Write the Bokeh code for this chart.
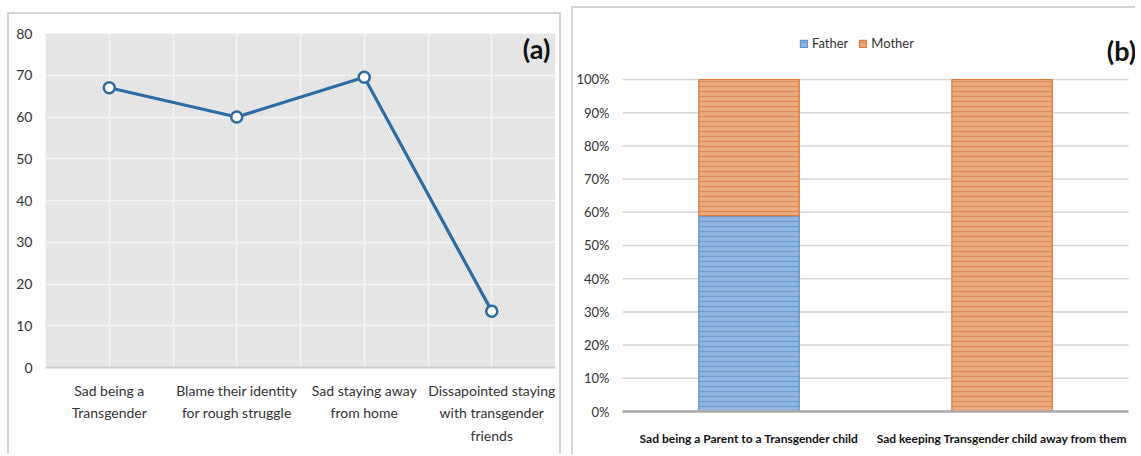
from bokeh.plotting import figure
from bokeh.layouts import row
from bokeh.models import (BoxAnnotation, Label, Legend, LegendItem, FactorRange,
                          NumeralTickFormatter, Grid, FixedTicker, Range1d,
                          CustomJSTickFormatter)
from bokeh.embed import file_html
from bokeh.resources import INLINE

# ---- panel (a): feelings of transgender respondents ----
a_categories = ["Sad being a\nTransgender",
                "Blame their identity\nfor rough struggle",
                "Sad staying away\nfrom home",
                "Dissapointed staying\nwith transgender\nfriends"]
a_values = [67, 60, 69.5, 13.5]
a_yticks = [0, 10, 20, 30, 40, 50, 60, 70, 80]

# ---- panel (b): parents' feelings ----
b_categories = ["Sad being a Parent to a Transgender child",
                "Sad keeping Transgender child away from them"]
b_father = [0.59, 0.0]
b_mother = [0.41, 1.0]
b_yticks = [0, 0.1, 0.2, 0.3, 0.4, 0.5, 0.6, 0.7, 0.8, 0.9, 1.0]

FONT = "Lato"
TXT = "#333333"
PANEL_BORDER = "2px solid #d4d4d4"

# ------------------------------------------------------------------ (a)
pa = figure(width=554, height=442, x_range=FactorRange(*a_categories),
            y_range=(0, 80), output_backend="svg", toolbar_location=None,
            min_border_left=36, min_border_right=8, min_border_top=19,
            min_border_bottom=89, frame_align=False, margin=(12, 5, 0, 7),
            styles={"border-top": PANEL_BORDER, "border-left": PANEL_BORDER,
                    "border-right": PANEL_BORDER})
pa.outline_line_color = None
pa.background_fill_color = "white"

# hatched plot area
pa.add_layout(BoxAnnotation(fill_color="#dcdcdc", fill_alpha=1.0,
                            hatch_pattern="left_diagonal_line",
                            hatch_color="#efefef", hatch_weight=1,
                            hatch_scale=4, line_color=None, level="image"))

pa.yaxis.ticker = a_yticks
pa.ygrid.grid_line_color = "#f4f4f4"
pa.ygrid.grid_line_width = 1.5
pa.xgrid.grid_line_color = "#f4f4f4"
pa.xgrid.grid_line_width = 1.5
# extra vertical lines on the category boundaries
pa.add_layout(Grid(dimension=0, ticker=FixedTicker(ticks=[1, 2, 3]),
                   grid_line_color="#f4f4f4", grid_line_width=1.5))

for ax in (pa.xaxis, pa.yaxis):
    ax.major_tick_line_color = None
    ax.minor_tick_line_color = None
    ax.major_label_text_font = FONT
    ax.major_label_text_font_size = "14px"
    ax.major_label_text_color = TXT
pa.yaxis.axis_line_color = None
pa.yaxis.major_label_standoff = 7
pa.xaxis.axis_line_color = "#cfcfcf"
pa.xaxis.axis_line_width = 2
pa.xaxis.major_label_standoff = 8
pa.xaxis.major_label_text_line_height = 1.35

pa.line(x=a_categories, y=a_values, line_color="#2f6ba3", line_width=3.2)
pa.scatter(x=a_categories, y=a_values, size=11, fill_color="white",
           line_color="#2f6ba3", line_width=2.5)

pa.add_layout(Label(x=3.96, y=76.3, text="(a)", text_align="right",
                    text_baseline="middle", text_font=FONT,
                    text_font_size="27px", text_font_style="bold",
                    text_color="#111111"))

# ------------------------------------------------------------------ (b)
# category i is centred on i + 0.5; the frame runs a little past the last
# category and above 100% so that the legend and panel tag fit inside it
b_x = [i + 0.5 for i in range(len(b_categories))]
pb = figure(width=564, height=448, x_range=Range1d(0, 2.035),
            y_range=Range1d(0, 1.1777), output_backend="svg",
            toolbar_location=None,
            min_border_left=49, min_border_right=0, min_border_top=12,
            min_border_bottom=45, frame_align=False, margin=(6, 0, 0, 5),
            styles={"border-top": PANEL_BORDER, "border-left": PANEL_BORDER})
pb.outline_line_color = None

src = dict(Father=b_father, Mother=b_mother)
stack_fill = ["#92b6de", "#ebaa80"]
stack_hatch = ["#6d9dd0", "#de8a55"]
stack_line = ["#5f96cf", "#e07b39"]
rends = []
for i, name in enumerate(["Father", "Mother"]):
    bottom = [0.0] * len(b_categories) if i == 0 else b_father
    top = [b + v for b, v in zip(bottom, src[name])]
    r = pb.vbar(x=b_x, bottom=bottom, top=top, width=0.397,
                fill_color=stack_fill[i], hatch_pattern="horizontal_line",
                hatch_color=stack_hatch[i], hatch_weight=1.3, hatch_scale=5,
                line_color=stack_line[i], line_width=1.2)
    rends.append(r)

# horizontal grid lines spanning the category area only
pb.ygrid.grid_line_color = None
pb.xgrid.grid_line_color = None
pb.segment(x0=0, x1=len(b_categories), y0=b_yticks[1:], y1=b_yticks[1:],
           line_color="#d6d6d6", line_width=1.5, level="underlay")

pb.yaxis.ticker = b_yticks
pb.yaxis.formatter = NumeralTickFormatter(format="0%")
pb.xaxis.ticker = FixedTicker(ticks=b_x)
pb.xaxis.formatter = CustomJSTickFormatter(
    args=dict(labels=b_categories),
    code="return labels[Math.floor(tick)] || '';")
pb.xaxis.bounds = (0, len(b_categories))
for ax in (pb.xaxis, pb.yaxis):
    ax.major_tick_line_color = None
    ax.minor_tick_line_color = None
    ax.major_label_text_font = FONT
    ax.major_label_text_color = TXT
pb.yaxis.major_label_text_font_size = "13px"
pb.yaxis.axis_line_color = None
pb.yaxis.major_label_standoff = 7
pb.xaxis.axis_line_color = "#a9a9a9"
pb.xaxis.axis_line_width = 2.5
pb.xaxis.major_label_text_font_size = "12px"
pb.xaxis.major_label_text_font_style = "bold"
pb.xaxis.major_label_text_color = "#111111"
pb.xaxis.major_label_standoff = 13

legend = Legend(items=[LegendItem(label="Father", renderers=[rends[0]]),
                       LegendItem(label="Mother", renderers=[rends[1]])],
                orientation="horizontal", location=(177, 360),
                label_text_font=FONT, label_text_font_size="13px",
                label_text_color=TXT, glyph_width=9, glyph_height=9,
                spacing=10, label_standoff=4, padding=5, margin=0,
                border_line_color=None, background_fill_alpha=0)
pb.add_layout(legend)

pb.add_layout(Label(x=2.03, y=1.087, text="(b)", text_align="right",
                    text_baseline="middle", text_font=FONT,
                    text_font_size="27px", text_font_style="bold",
                    text_color="#111111"))

layout = row(pa, pb)
open("out.html", "w").write(file_html(layout, INLINE))
